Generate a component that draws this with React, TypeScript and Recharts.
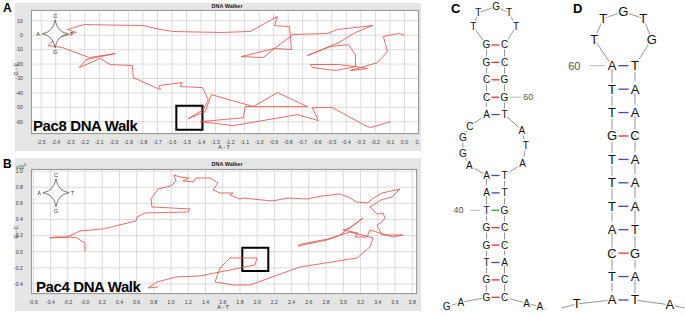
import React from 'react';
import {
  LineChart, Line, XAxis, YAxis, CartesianGrid, ReferenceArea, ReferenceDot,
  ReferenceLine, ScatterChart, Scatter,
} from 'recharts';

const FONT = '"Liberation Sans", Arial, Helvetica, sans-serif';

// ---------- Panel A: Pac8 DNA walk (A-T, G-C) ----------
const pac8Walk: [number, number][] = [
  [0, 0], [-0.041, 1.2], [-0.145, -0.9], [-0.117, -11.3], [-0.186, -19.0], [-0.372, -24.5],
  [-0.255, -23.1], [-0.337, -21.7], [-0.461, -20.3], [-0.647, -20.3], [-0.634, -22.4],
  [-0.475, -24.5], [-0.337, -21.7], [-0.337, -13.4], [-0.386, -6.5], [-0.51, -7.8],
  [-0.668, -14.1], [-0.45, -5.0], [-0.337, 1.9], [-0.22, 6.7], [-0.461, 4.0], [-0.53, 1.2],
  [-0.771, 0.5], [-0.785, -0.9], [-0.778, -9.9], [-0.895, -9.2], [-0.971, -15.5],
  [-1.123, -14.8], [-0.895, -9.2], [-0.785, -0.9], [-0.792, 6.0], [-0.895, 6.7],
  [-0.875, 13.0], [-1.061, 2.6], [-1.267, 1.9], [-1.591, 2.6], [-1.68, 4.0], [-1.798, 6.7],
  [-2.204, 7.4], [-2.321, 4.0], [-2.259, 1.9], [-2.404, -2.3], [-2.452, -7.2], [-2.355, -8.5],
  [-2.169, -15.5], [-1.99, -12.7], [-2.19, -16.9], [-2.238, -22.4], [-2.094, -16.2],
  [-2.025, -20.3], [-1.873, -21.0], [-1.866, -29.4], [-1.68, -37.7], [-1.687, -34.9],
  [-1.529, -32.8], [-1.543, -35.6], [-1.391, -36.3], [-1.35, -44.7], [-1.384, -51.6],
  [-1.488, -57.9], [-1.371, -53.0], [-1.329, -41.2], [-1.04, -49.5], [-0.875, -39.8],
  [-0.668, -49.5], [-1.095, -49.5], [-1.109, -57.2], [-1.322, -59.2], [-1.405, -59.9],
  [-1.178, -62.7], [-0.737, -55.1], [-0.592, -59.2], [-0.634, -50.2], [-0.496, -50.2],
  [-0.282, -62.0], [-0.234, -64.1], [-0.096, -59.9],
];
const pac8XTicks = [
  -2.5, -2.4, -2.3, -2.2, -2.1, -2.0, -1.9, -1.8, -1.7, -1.6, -1.5, -1.4, -1.3, -1.2,
  -1.1, -1.0, -0.9, -0.8, -0.7, -0.6, -0.5, -0.4, -0.3, -0.2, -0.1, 0.0, 0.1,
];
const pac8YTicks = [-60, -50, -40, -30, -20, -10, 0, 10];
const pac8Box = { x1: -1.57, x2: -1.39, y1: -65.6, y2: -48.9 };
const pac8Compass = { x: -2.404, y: 1.0 };

// ---------- Panel B: Pac4 DNA walk (x10^5) ----------
const pac4Walk: [number, number][] = [
  [0, 0], [0, 0.108], [-0.093, 0.17], [-0.174, 0.182], [-0.406, 0.17], [-0.348, 0.182],
  [-0.209, 0.182], [-0.058, 0.257], [0.209, 0.282], [0.592, 0.381], [0.604, 0.431],
  [0.697, 0.48], [1.196, 0.493], [1.219, 0.53], [0.778, 0.555], [0.767, 0.654],
  [0.848, 0.778], [0.999, 0.816], [1.057, 0.878], [1.034, 0.952], [1.103, 0.927],
  [1.208, 0.914], [1.138, 0.878], [1.254, 0.865], [1.289, 0.914], [1.452, 0.914],
  [1.51, 0.878], [1.545, 0.852], [1.487, 0.766], [1.568, 0.728], [1.719, 0.728],
  [1.684, 0.704], [1.8, 0.654], [1.835, 0.666], [2.172, 0.629], [2.358, 0.666],
  [2.578, 0.654], [2.753, 0.691], [2.962, 0.716], [3.055, 0.679], [3.159, 0.616],
  [3.287, 0.604], [3.333, 0.654], [3.449, 0.728], [3.659, 0.778], [3.566, 0.679],
  [3.438, 0.641], [3.31, 0.555], [3.391, 0.468], [3.461, 0.48], [3.484, 0.418],
  [3.449, 0.369], [3.391, 0.331], [3.449, 0.207], [3.693, 0.207], [3.577, 0.182],
  [3.31, 0.269], [3.275, 0.182], [3.136, 0.182], [3.171, 0.232], [2.996, 0.269],
  [3.078, 0.294], [3.229, 0.418], [2.962, 0.207], [2.811, 0.145], [2.474, 0.071],
  [2.52, 0.096], [2.822, 0.158], [3.078, 0.244], [3.345, 0.17], [3.31, 0.058],
  [3.159, -0.078], [2.497, -0.19], [1.916, -0.413], [1.719, -0.413], [1.51, -0.376],
  [1.568, -0.202], [1.684, -0.078], [1.998, -0.078], [1.974, -0.165], [1.336, -0.301],
  [1.057, -0.314], [0.836, -0.376], [0.732, -0.45], [0.848, -0.438],
];
const pac4XTicks = [
  -0.6, -0.4, -0.2, 0, 0.2, 0.4, 0.6, 0.8, 1.0, 1.2, 1.4, 1.6, 1.8, 2.0, 2.2, 2.4,
  2.6, 2.8, 3.0, 3.2, 3.4, 3.6, 3.8,
];
const pac4YTicks = [-0.4, -0.2, 0, 0.2, 0.4, 0.6, 0.8, 1.0];
const pac4Box = { x1: 1.827, x2: 2.129, y1: -0.24, y2: 0.05 };
const pac4Compass = { x: -0.337, y: 0.732 };

// ---------- Panel C: hairpin structure (base, column, row) ----------
const cStructure: [string, number, number][] = [
  ['', -2.5, 15.2], ['G', -2.21, 15.04], ['A', -1.43, 14.8],
  ['G', 0, 14.5], ['G', 0, 13.5], ['T', 0, 12.5], ['G', 0, 11.5], ['G', 0, 10.5],
  ['T', 0, 9.5], ['A', 0, 8.5], ['A', 0, 7.5],
  ['A', -0.96, 6.9], ['G', -1.31, 6.21], ['G', -1.31, 5.34], ['C', -0.92, 4.66],
  ['A', 0, 4], ['C', 0, 3], ['C', 0, 2], ['G', 0, 1], ['G', 0, 0],
  ['T', -0.73, -1.05], ['T', -0.46, -1.86], ['G', 0.53, -2.2], ['T', 1.25, -1.86], ['T', 1.64, -1.05],
  ['C', 1, 0], ['C', 1, 1], ['G', 1, 2], ['G', 1, 3], ['T', 1, 4],
  ['A', 1.96, 4.89], ['T', 2.19, 5.8], ['A', 2.01, 6.8],
  ['T', 1, 7.5], ['T', 1, 8.5], ['G', 1, 9.5], ['C', 1, 10.5], ['C', 1, 11.5],
  ['A', 1, 12.5], ['C', 1, 13.5], ['C', 1, 14.5],
  ['A', 2.23, 14.84], ['A', 2.97, 15.04], ['', 3.3, 15.2],
];
// label, labelX, row, lineFrom, lineTo
const cMarks: [string, number, number, number, number][] = [
  ['60', 2.32, 3, 1.31, 1.96],
  ['40', -1.55, 9.5, -0.92, -0.36],
];

// ---------- Panel D: hairpin structure ----------
const dStructure: [string, number, number][] = [
  ['', -2.19, 10.34], ['T', -1.53, 10.17],
  ['A', 0, 10], ['T', 0, 9], ['C', 0, 8], ['A', 0, 7], ['T', 0, 6], ['T', 0, 5],
  ['T', 0, 4], ['G', 0, 3], ['T', 0, 2], ['T', 0, 1], ['A', 0, 0],
  ['T', -0.77, -1.13], ['T', -0.38, -2.02], ['G', 0.49, -2.3], ['T', 1.36, -2.02], ['G', 1.73, -1.13],
  ['T', 1, 0], ['A', 1, 1], ['A', 1, 2], ['C', 1, 3], ['A', 1, 4], ['A', 1, 5],
  ['A', 1, 6], ['T', 1, 7], ['G', 1, 8], ['A', 1, 9], ['T', 1, 10],
  ['A', 2.52, 10.21], ['', 3.15, 10.34],
];
const dMarks: [string, number, number, number, number][] = [
  ['60', -1.64, 0, -0.96, -0.3],
];

// ---------- helpers ----------
function pairColor(a: string, b: string) {
  const s = [a, b].sort().join('');
  if (s === 'CG') return '#e3342f';
  if (s === 'GT') return '#2f9e44';
  return '#4d46b3';
}

function renderCompass(p: any) {
  const { cx, cy } = p;
  const h = 13, v = 14, k = 1.8;
  const d = `M${cx} ${cy - v} Q${cx + k} ${cy - k} ${cx + h} ${cy} Q${cx + k} ${cy + k} ${cx} ${cy + v} Q${cx - k} ${cy + k} ${cx - h} ${cy} Q${cx - k} ${cy - k} ${cx} ${cy - v}Z`;
  const t: any = { fontSize: 5.5, fill: '#333', fontFamily: FONT, textAnchor: 'middle', dominantBaseline: 'central' };
  return (
    <g>
      <path d={d} fill="#fff" stroke="#555" strokeWidth={0.8} />
      <text x={cx} y={cy - 18} {...t}>C</text>
      <text x={cx} y={cy + 18} {...t}>G</text>
      <text x={cx - 17} y={cy} {...t}>A</text>
      <text x={cx + 16.5} y={cy} {...t}>T</text>
    </g>
  );
}

type WalkProps = {
  walk: [number, number][];
  xDomain: [number, number];
  yDomain: [number, number];
  xTicks: number[];
  yTicks: number[];
  box: { x1: number; x2: number; y1: number; y2: number };
  compass: { x: number; y: number };
  height: number;
  marginTop: number;
  marginBottom: number;
  marginRight: number;
  xFmt: (v: number) => string;
  yFmt: (v: number) => string;
};

function WalkChart(props: WalkProps) {
  const { walk, xDomain, yDomain, xTicks, yTicks, box, compass, height, marginTop, marginBottom, marginRight, xFmt, yFmt } = props;
  const data = walk.map(([x, y]) => ({ x, y }));
  const tick = { fontSize: 5.2, fill: '#404040', fontFamily: FONT };
  return (
    <LineChart width={420} height={height} data={data}
      margin={{ top: marginTop, right: marginRight, bottom: marginBottom, left: 1 }}>
      <CartesianGrid stroke="#d3d3d3" strokeWidth={0.8} fill="#ffffff" />
      <XAxis type="number" dataKey="x" domain={xDomain} ticks={xTicks} interval={0} allowDataOverflow
        tickLine={false} axisLine={false} tick={tick} tickFormatter={xFmt} tickMargin={0} height={14} />
      <YAxis type="number" dataKey="y" domain={yDomain} ticks={yTicks} interval={0} allowDataOverflow
        tickLine={false} axisLine={false} tick={tick} tickFormatter={yFmt} tickMargin={2} width={30} />
      <ReferenceDot x={compass.x} y={compass.y} r={1} shape={renderCompass} />
      <Line type="linear" dataKey="y" stroke="#e8473f" strokeWidth={0.8} dot={false} activeDot={false}
        isAnimationActive={false} />
      <ReferenceArea x1={box.x1} x2={box.x2} y1={box.y1} y2={box.y2} fill="none" fillOpacity={0}
        stroke="#000" strokeWidth={2} />
    </LineChart>
  );
}

type StructProps = {
  seq: [string, number, number][];
  marks: [string, number, number, number, number][];
  xDomain: [number, number];
  yDomain: [number, number];
  width: number;
  height: number;
  fontSize: number;
  markFont: number;
  span: number;
};

function StructureChart(props: StructProps) {
  const { seq, marks, xDomain, yDomain, width, height, fontSize, markFont, span } = props;
  const data = seq.map(([b, x, y]) => ({ b, x, y }));
  const pairs = data
    .filter((d) => d.x === 0 && d.b)
    .map((l) => {
      const r = data.find((d) => d.x === 1 && d.y === l.y);
      return r ? { y: l.y, color: pairColor(l.b, r.b) } : null;
    })
    .filter(Boolean) as { y: number; color: string }[];
  const letter = (p: any) => {
    const b = p.payload ? p.payload.b : p.b;
    if (!b) return <g />;
    return (
      <text x={p.cx} y={p.cy} textAnchor="middle" dominantBaseline="central" fontSize={fontSize}
        fontFamily={FONT} fill="#111" stroke="#fff" strokeWidth={3.2} paintOrder="stroke">{b}</text>
    );
  };
  return (
    <ScatterChart width={width} height={height} margin={{ top: 0, right: 0, bottom: 0, left: 0 }}>
      <XAxis type="number" dataKey="x" domain={xDomain} hide allowDataOverflow />
      <YAxis type="number" dataKey="y" domain={yDomain} hide reversed allowDataOverflow />
      {pairs.map((p, i) => (
        <ReferenceLine key={'p' + i} segment={[{ x: 0.5 - span, y: p.y }, { x: 0.5 + span, y: p.y }]}
          stroke={p.color} strokeWidth={1.3} />
      ))}
      {marks.map((m, i) => (
        <ReferenceLine key={'m' + i} segment={[{ x: m[3], y: m[2] }, { x: m[4], y: m[2] }]}
          stroke="#a8a8a8" strokeWidth={0.8} />
      ))}
      {marks.map((m, i) => (
        <ReferenceDot key={'t' + i} x={m[1]} y={m[2]} r={1}
          shape={(p: any) => (
            <text x={p.cx} y={p.cy} textAnchor="middle" dominantBaseline="central" fontSize={markFont}
              fontFamily={FONT} fill="#555">{m[0]}</text>
          )} />
      ))}
      <Scatter data={data} fill="#777" line={{ stroke: '#7a7a7a', strokeWidth: 0.8 }} lineType="joint"
        shape={letter} isAnimationActive={false} />
    </ScatterChart>
  );
}

const abs = (s: React.CSSProperties): React.CSSProperties => ({ position: 'absolute', ...s });

export default function App() {
  const small: React.CSSProperties = { fontSize: 5.5, lineHeight: '5.5px', color: '#333', fontFamily: FONT, whiteSpace: 'nowrap' };
  const big: React.CSSProperties = { fontSize: 15, lineHeight: '15px', fontWeight: 700, letterSpacing: -0.4, color: '#000', fontFamily: FONT, whiteSpace: 'nowrap' };
  const panelLbl: React.CSSProperties = { fontWeight: 700, color: '#000', fontFamily: FONT, whiteSpace: 'nowrap' };
  return (
    <div style={abs({ left: 0, top: 0, width: 685, height: 316, background: '#fff', overflow: 'hidden', fontFamily: FONT })}>
      {/* gray frames */}
      <div style={abs({ left: 15, top: 3, width: 406, height: 148, background: '#e5e5e5' })} />
      <div style={abs({ left: 15, top: 158, width: 406, height: 153, background: '#e5e5e5' })} />

      {/* Panel A */}
      <div style={abs({ left: 0, top: 0 })}>
        <WalkChart walk={pac8Walk} xDomain={[-2.57, 0.1]} yDomain={[-68.5, 17.5]} xTicks={pac8XTicks}
          yTicks={pac8YTicks} box={pac8Box} compass={pac8Compass} height={148} marginTop={10}
          marginBottom={0} marginRight={1} xFmt={(v) => v.toFixed(1)} yFmt={(v) => String(v)} />
      </div>
      <div style={abs({ left: 31, top: 10, width: 388, height: 124, border: '1px solid #9a9a9a', boxSizing: 'border-box', pointerEvents: 'none' })} />

      {/* Panel B */}
      <div style={abs({ left: 0, top: 150 })}>
        <WalkChart walk={pac4Walk} xDomain={[-0.627, 3.856]} yDomain={[-0.525, 1.026]} xTicks={pac4XTicks}
          yTicks={pac4YTicks} box={pac4Box} compass={pac4Compass} height={162} marginTop={19}
          marginBottom={4} marginRight={3} xFmt={(v) => (v === 0 ? '-0.0' : v.toFixed(1))}
          yFmt={(v) => v.toFixed(1)} />
      </div>
      <div style={abs({ left: 31, top: 169, width: 386, height: 125, border: '1px solid #9a9a9a', boxSizing: 'border-box', pointerEvents: 'none' })} />

      {/* text for A */}
      <div style={abs({ ...panelLbl, left: 3, top: 2.4, fontSize: 12, lineHeight: '12px' })}>A</div>
      <div style={abs({ ...small, left: 177, top: 3.5, width: 100, textAlign: 'center', fontWeight: 700, color: '#222' })}>DNA Walker</div>
      <div style={abs({ ...small, left: 194, top: 145, width: 60, textAlign: 'center' })}>A - T</div>
      <div style={abs({ ...small, left: 16.5, top: 69, transform: 'translate(-50%,-50%) rotate(-90deg)' })}>G - C</div>
      <div style={abs({ ...big, left: 33, top: 118 })}>Pac8 DNA Walk</div>

      {/* text for B */}
      <div style={abs({ ...panelLbl, left: 3, top: 157.5, fontSize: 12, lineHeight: '12px' })}>B</div>
      <div style={abs({ ...small, left: 177, top: 162.3, width: 100, textAlign: 'center', fontWeight: 700, color: '#222' })}>DNA Walker</div>
      <div style={abs({ ...small, left: 193, top: 305.3, width: 60, textAlign: 'center' })}>A - T</div>
      <div style={abs({ ...small, left: 16.5, top: 232, transform: 'translate(-50%,-50%) rotate(-90deg)' })}>G - C</div>
      <div style={abs({ ...small, left: 16, top: 161.5, fontSize: 5 })}>x10<sup style={{ fontSize: 4 }}>5</sup></div>
      <div style={abs({ ...big, left: 36, top: 278.7 })}>Pac4 DNA Walk</div>

      {/* Panel C */}
      <div style={abs({ left: 440, top: 0 })}>
        <StructureChart seq={cStructure} marks={cMarks} xDomain={[-2.583, 3.806]} yDomain={[-2.586, 15.575]}
          width={115} height={316} fontSize={10} markFont={9} span={0.23} />
      </div>
      <div style={abs({ ...panelLbl, left: 451, top: 2.3, fontSize: 13, lineHeight: '13px' })}>C</div>

      {/* Panel D */}
      <div style={abs({ left: 555, top: 0 })}>
        <StructureChart seq={dStructure} marks={dMarks} xDomain={[-2.478, 3.174]} yDomain={[-2.804, 10.683]}
          width={130} height={316} fontSize={13} markFont={11} span={0.22} />
      </div>
      <div style={abs({ ...panelLbl, left: 573, top: 2.3, fontSize: 13, lineHeight: '13px' })}>D</div>
    </div>
  );
}
